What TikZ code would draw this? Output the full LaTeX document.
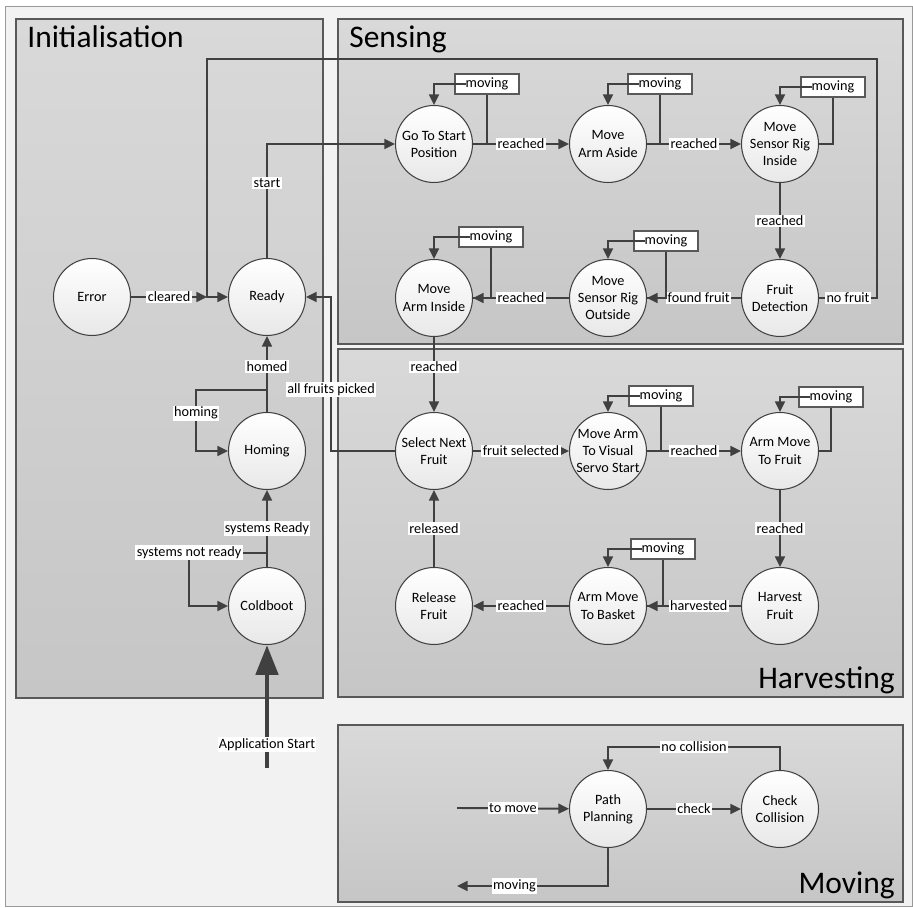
\documentclass[tikz,border=0pt]{standalone}
\usepackage{fontspec}
\setmainfont{Carlito}
\usetikzlibrary{arrows.meta, positioning, calc}
\definecolor{edge}{HTML}{404040}
\definecolor{pnltop}{HTML}{D9D9D9}
\definecolor{pnlbot}{HTML}{C6C6C6}
\definecolor{pnlline}{HTML}{595959}
\definecolor{bg}{HTML}{F2F2F2}

\begin{document}
\begin{tikzpicture}[
    x=0.02cm, y=-0.02cm,
    >={Triangle[length=6pt, width=5.6pt]},
    font=\fontsize{8.1}{9.7}\selectfont,
    state/.style={circle, draw=edge, line width=0.6pt, top color=white,
                  bottom color=black!9, minimum size=1.54cm, inner sep=0pt,
                  align=center},
    lab/.style={fill=white, inner sep=0.8pt},
    mbox/.style={draw=pnlline, line width=0.6pt, fill=white, minimum width=1.28cm,
                 minimum height=0.4cm, inner sep=0pt},
    cyc/.style={->, draw=edge, line width=1.1pt},
    bigarr/.style={-{Triangle[length=17pt, width=12.5pt]}, draw=edge, line width=2.8pt},
    panel/.style={draw=pnlline, line width=0.6pt, top color=pnltop, bottom color=pnlbot},
    title/.style={font=\fontsize{17.9}{20}\selectfont, inner sep=0pt},
]
\useasboundingbox (0,0) rectangle (913,908);
\draw[draw=black!40, fill=bg] (5,6) rectangle (912,906);

\draw[panel] (16,19) rectangle (323,698);
\draw[panel] (338,19) rectangle (903,344);
\draw[panel] (338,349) rectangle (903,697);
\draw[panel] (338,725) rectangle (903,902);

\node[title, anchor=base west] (tIni) at (27,48) {Initialisation};
\node[title, anchor=base west] (tSen) at (349,48) {Sensing};
\node[title, anchor=base east] (tHar) at (895,688) {Harvesting};
\node[title, anchor=base east] (tMov) at (895,893) {Moving};

\node[state] (Err)  at (92,297)  {Error};
\node[state] (Rdy)  at (267,297) {Ready};
\node[state] (Hom)  at (267,451) {Homing};
\node[state] (Cold) at (267,606) {Coldboot};

\node[state] (GTS)  at (434,144) {Go To Start\\Position};
\node[state] (MAA)  at (608,144) {Move\\Arm Aside};
\node[state] (MSRI) at (780,144) {Move\\Sensor Rig\\Inside};
\node[state] (FD)   at (780,298) {Fruit\\Detection};
\node[state] (MSRO) at (608,298) {Move\\Sensor Rig\\Outside};
\node[state] (MAI)  at (434,298) {Move\\Arm Inside};

\node[state] (SNF)  at (434,451) {Select Next\\Fruit};
\node[state] (MAVS) at (608,451) {Move Arm\\To Visual\\Servo Start};
\node[state] (AMTF) at (780,451) {Arm Move\\To Fruit};
\node[state] (HF)   at (780,606) {Harvest\\Fruit};
\node[state] (AMB)  at (608,606) {Arm Move\\To Basket};
\node[state] (RF)   at (434,606) {Release\\Fruit};

\node[state] (PP)   at (608,809) {Path\\Planning};
\node[state] (CC)   at (780,809) {Check\\Collision};

\node[mbox] (mGTS)  at (487,84)  {moving};
\node[mbox] (mMAA)  at (660,84)  {moving};
\node[mbox] (mMSRI) at (833,87)  {moving};
\node[mbox] (mMSRO) at (666,241) {moving};
\node[mbox] (mMAI)  at (491,237) {moving};
\node[mbox] (mMAVS) at (661,396) {moving};
\node[mbox] (mAMTF) at (831,397) {moving};
\node[mbox] (mAMB)  at (663,549) {moving};

\coordinate (J)  at (207,297);
\coordinate (NF) at (877,59);
\coordinate (AF) at (331,297);
\coordinate (TM) at (457,808);
\coordinate (MO) at (457,886);
\coordinate (AS) at (267,768);

\draw[cyc] (Err) -- node[lab] {cleared} (J);
\draw[cyc] (FD.east) -| node[lab, pos=0.25] {no fruit} (NF) -| (J) -- (Rdy.west);
\draw[cyc] (Rdy.north) |- node[lab, pos=0.33] {start} (GTS.west);
\draw[cyc] (Hom) -- node[lab, pos=0.6] {homed} (Rdy);
\draw[cyc] ($(Hom.north)+(0,-22)$) -- ++(-71,0) |- node[lab, pos=0.19] {homing} (Hom.west);
\draw[cyc] (Cold) -- node[lab] {systems Ready} (Hom);
\draw[cyc] ($(Cold.north)+(0,-14)$) -| node[lab, pos=0.5] {systems not ready}
    ($(Cold.west)+(-39,0)$) -- (Cold.west);
\draw[cyc] (SNF.west) -| node[lab, pos=0.7] {all fruits picked} (AF) -- (Rdy.east);
\draw[bigarr] (AS) -- node[lab, pos=0.19] {Application Start} (Cold);

\draw[cyc] (GTS) -- node[lab] {reached} (MAA);
\draw[cyc] (MAA) -- node[lab] {reached} (MSRI);
\draw[cyc] (MSRI) -- node[lab] {reached} (FD);
\draw[cyc] (FD) -- node[lab, pos=0.45] {found fruit} (MSRO);
\draw[cyc] (MSRO) -- node[lab] {reached} (MAI);
\draw[cyc] (MAI) -- node[lab, pos=0.4] {reached} (SNF);

\draw[cyc] (SNF) -- node[lab] {fruit selected} (MAVS);
\draw[cyc] (MAVS) -- node[lab] {reached} (AMTF);
\draw[cyc] (AMTF) -- node[lab] {reached} (HF);
\draw[cyc] (HF) -- node[lab, pos=0.45] {harvested} (AMB);
\draw[cyc] (AMB) -- node[lab] {reached} (RF);
\draw[cyc] (RF) -- node[lab] {released} (SNF);

\draw[cyc] (GTS.east)  -| (mGTS.south)  (mGTS.text |- mGTS.center)   -| (GTS.north);
\draw[cyc] (MAA.east)  -| (mMAA.south)  (mMAA.text |- mMAA.center)   -| (MAA.north);
\draw[cyc] (MSRI.east) -| (mMSRI.south) (mMSRI.text |- mMSRI.center) -| (MSRI.north);
\draw[cyc] (MSRO.east) -| (mMSRO.south) (mMSRO.text |- mMSRO.center) -| (MSRO.north);
\draw[cyc] (MAI.east)  -| (mMAI.south)  (mMAI.text |- mMAI.center)   -| (MAI.north);
\draw[cyc] (MAVS.east) -| (mMAVS.south) (mMAVS.text |- mMAVS.center) -| (MAVS.north);
\draw[cyc] (AMTF.east) -| (mAMTF.south) (mAMTF.text |- mAMTF.center) -| (AMTF.north);
\draw[cyc] (AMB.east)  -| (mAMB.south)  (mAMB.text |- mAMB.center)   -| (AMB.north);

\draw[cyc] (TM) -- node[lab] {to move} (PP);
\draw[cyc] (PP) -- node[lab] {check} (CC);
\draw[cyc] (CC.north) -- ++(0,-23) -| node[lab, pos=0.25] {no collision} (PP.north);
\draw[cyc] (PP.south) |- node[lab, pos=0.81] {moving} (MO);

\end{tikzpicture}
\end{document}
